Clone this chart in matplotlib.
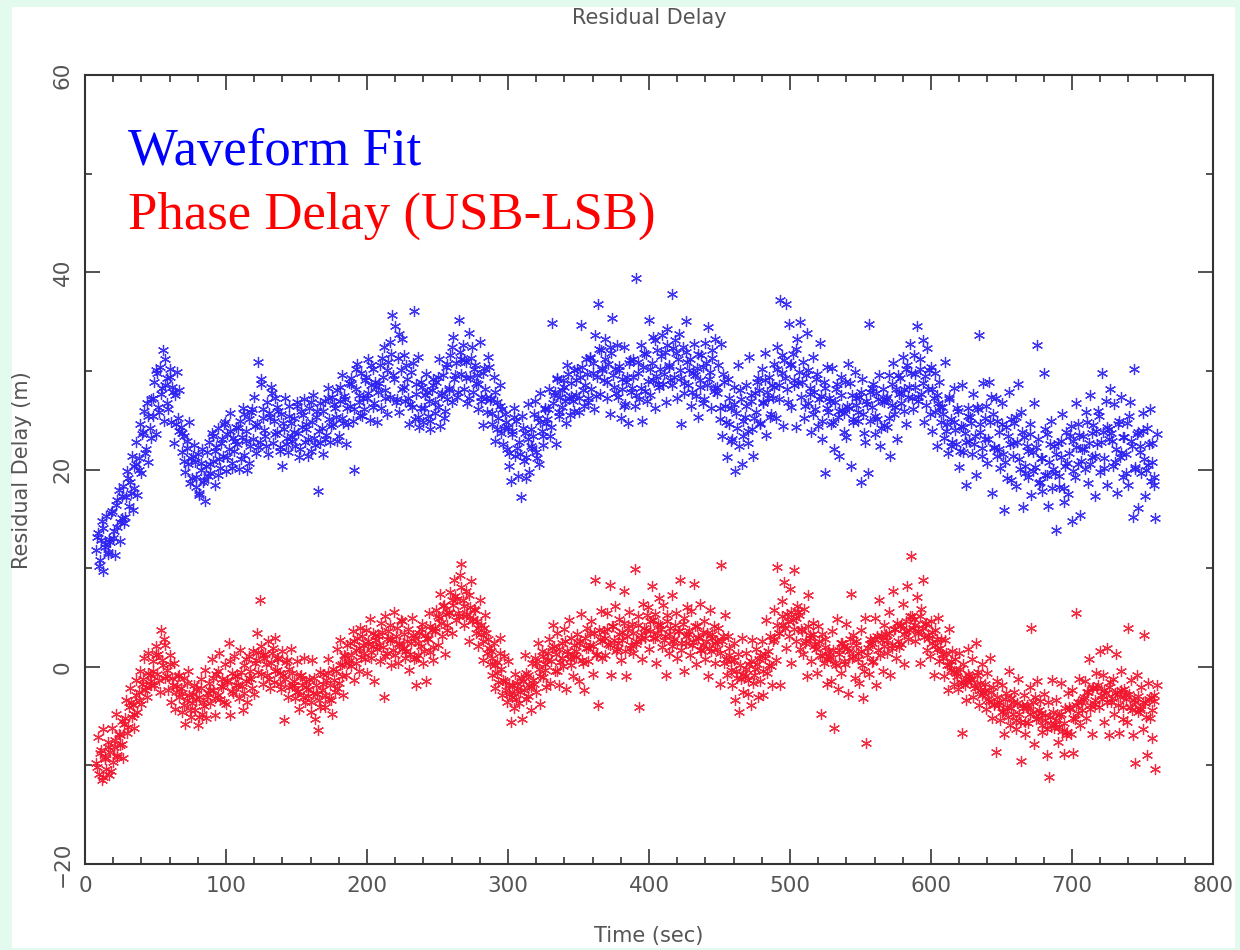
import matplotlib.pyplot as plt
import numpy as np
from matplotlib.patches import Rectangle
from matplotlib.ticker import MultipleLocator

# sample times: whole seconds 8..760 s, plus the half-second samples in between
time_sec = np.arange(8, 761)
time_sec_b = np.arange(8.5, 760, 2.0)

# Waveform Fit residual delay (m), 10 s per row
waveform_fit = [
    11.8, 13.6, 10.2, 12.9, 14.8, 9.7, 12.1, 15.3, 11.4, 13.0,
    12.6, 15.8, 13.1, 11.3, 16.4, 14.2, 17.9, 12.8, 15.1, 18.3,
    14.6, 17.2, 19.8, 16.3, 18.7, 21.4, 15.9, 18.1, 20.6, 17.4,
    21.2, 24.6, 19.6, 23.8, 25.9, 22.1, 26.7, 20.8, 24.2, 27.1,
    25.4, 28.9, 23.6, 29.8, 26.3, 30.4, 27.7, 32.1, 24.9, 28.6,
    29.3, 26.1, 30.2, 24.8, 28.4, 22.7, 27.6, 29.9, 25.2, 23.9,
    24.3, 21.8, 23.4, 19.7, 22.9, 20.6, 24.8, 21.2, 19.1, 22.5,
    20.8, 18.2, 21.6, 17.4, 19.9, 22.1, 18.7, 16.8, 20.4, 19.3,
    22.8, 19.6, 23.7, 20.9, 18.4, 22.3, 24.2, 21.1, 20.2, 23.1,
    21.4, 24.8, 19.8, 23.6, 22.1, 25.7, 20.7, 23.2, 21.9, 24.3,
    22.6, 20.1, 24.9, 23.3, 26.2, 21.5, 23.9, 19.9, 25.1, 22.4,
    25.8, 23.1, 27.4, 21.7, 24.6, 30.9, 22.8, 29.2, 26.1, 24.0,
    23.4, 26.8, 21.6, 25.3, 28.4, 22.7, 24.9, 27.2, 23.8, 25.9,
    22.3, 25.6, 20.4, 24.1, 27.3, 23.2, 21.8, 26.4, 24.7, 22.9,
    25.2, 22.4, 26.8, 23.7, 21.3, 25.9, 24.3, 27.1, 22.8, 24.6,
    23.1, 26.2, 21.9, 24.8, 27.6, 22.5, 25.3, 17.8, 23.9, 26.7,
    24.2, 21.6, 26.9, 23.5, 28.3, 25.1, 22.8, 27.4, 24.6, 26.2,
    25.3, 28.1, 23.4, 26.9, 29.6, 24.7, 27.5, 22.6, 26.2, 28.8,
    26.4, 29.3, 24.9, 19.9, 28.2, 30.7, 26.8, 25.5, 29.8, 27.3,
    26.1, 29.4, 27.3, 31.2, 25.0, 28.6, 30.2, 26.7, 28.9, 24.8,
    27.9, 30.6, 26.2, 29.4, 32.4, 28.1, 25.6, 30.9, 27.4, 31.7,
    35.7, 29.2, 34.6, 27.1, 31.3, 25.8, 30.1, 33.2, 28.4, 26.9,
    30.6, 27.2, 24.6, 29.9, 26.3, 36.1, 25.1, 28.7, 31.4, 24.3,
    26.2, 28.4, 24.8, 27.6, 29.7, 25.4, 26.9, 24.1, 28.1, 29.2,
    25.7, 28.9, 26.3, 31.2, 24.4, 27.8, 29.6, 25.9, 30.4, 27.1,
    28.3, 31.6, 26.8, 33.4, 29.2, 30.8, 27.4, 35.2, 31.9, 29.7,
    32.6, 28.2, 30.9, 26.7, 33.8, 29.4, 31.3, 27.9, 30.2, 28.8,
    29.6, 26.1, 32.9, 27.4, 24.5, 30.3, 28.2, 25.8, 31.4, 27.0,
    27.3, 24.6, 29.4, 22.9, 26.8, 25.2, 28.6, 23.7, 26.1, 24.2,
    25.6, 22.1, 24.3, 20.4, 18.8, 23.6, 26.2, 21.4, 24.9, 19.3,
    22.8, 17.2, 25.4, 20.9, 23.7, 21.3, 26.6, 19.7, 24.1, 22.2,
    23.4, 26.9, 21.8, 25.2, 20.6, 27.8, 23.9, 22.5, 26.1, 24.7,
    25.1, 28.2, 23.4, 34.9, 26.7, 27.9, 22.6, 29.3, 25.8, 27.4,
    26.3, 29.1, 28.4, 24.7, 30.6, 27.2, 25.5, 28.8, 26.9, 30.1,
    27.6, 30.2, 25.8, 29.4, 34.7, 28.1, 26.4, 31.2, 29.7, 27.3,
    31.4, 28.2, 30.8, 26.1, 33.6, 29.4, 36.8, 27.7, 32.1, 30.3,
    29.1, 33.2, 27.3, 30.7, 25.6, 31.8, 35.4, 28.4, 30.2, 32.6,
    27.4, 30.1, 25.2, 29.2, 32.4, 26.6, 28.9, 24.7, 30.8, 27.9,
    28.3, 31.2, 26.4, 39.4, 29.8, 27.1, 32.6, 24.9, 30.4, 28.0,
    31.7, 29.0, 35.2, 27.6, 30.8, 33.4, 26.2, 29.5, 32.1, 28.4,
    30.2, 33.6, 28.7, 31.9, 26.8, 34.2, 30.6, 29.1, 37.8, 32.3,
    29.4, 31.8, 27.2, 33.7, 30.1, 24.6, 32.4, 28.8, 35.1, 30.9,
    28.6, 31.2, 26.4, 29.8, 32.7, 27.5, 30.3, 25.3, 29.1, 31.6,
    30.4, 27.1, 32.8, 28.6, 34.4, 29.9, 26.2, 31.3, 28.0, 33.2,
    27.8, 30.6, 25.1, 32.7, 23.4, 28.9, 26.4, 21.3, 29.2, 24.6,
    26.2, 23.1, 28.4, 19.8, 25.7, 30.6, 22.4, 27.1, 20.6, 24.9,
    25.3, 28.6, 22.7, 31.4, 26.9, 24.1, 21.4, 27.8, 25.8, 29.3,
    28.1, 24.6, 30.2, 26.7, 31.8, 23.5, 27.9, 29.4, 25.3, 28.6,
    27.3, 30.7, 25.2, 32.4, 28.6, 37.2, 29.8, 24.4, 31.1, 36.8,
    28.2, 34.8, 30.6, 26.3, 31.7, 29.1, 24.3, 33.2, 28.8, 35.0,
    27.4, 30.9, 25.2, 29.6, 33.8, 26.7, 28.3, 23.8, 31.4, 27.9,
    26.1, 29.7, 24.4, 32.8, 27.5, 23.1, 28.9, 19.6, 30.4, 25.8,
    27.2, 24.6, 30.3, 22.1, 26.8, 28.7, 25.3, 21.4, 29.4, 26.0,
    25.7, 28.9, 23.3, 30.7, 26.2, 20.4, 27.6, 24.8, 29.9, 26.5,
    24.9, 27.4, 18.7, 29.2, 25.6, 22.8, 26.9, 19.6, 34.8, 27.9,
    26.3, 28.7, 23.6, 27.8, 25.1, 29.6, 22.4, 26.9, 28.2, 24.5,
    27.1, 24.3, 29.6, 21.4, 26.5, 30.8, 25.6, 28.2, 23.1, 27.7,
    29.3, 26.7, 31.4, 28.2, 24.6, 30.6, 27.4, 32.7, 29.8, 26.1,
    31.6, 28.4, 34.6, 26.9, 30.2, 27.7, 33.1, 24.8, 29.5, 32.3,
    28.2, 25.6, 30.4, 23.9, 27.3, 29.8, 22.4, 26.7, 28.9, 24.8,
    26.3, 23.2, 30.9, 24.6, 21.7, 27.4, 25.1, 22.8, 28.3, 24.0,
    22.6, 25.9, 20.3, 24.4, 28.6, 21.8, 23.7, 18.4, 26.2, 22.9,
    25.3, 21.6, 27.7, 23.4, 19.4, 26.1, 33.6, 24.6, 22.2, 28.8,
    23.1, 26.4, 20.7, 28.9, 24.8, 17.6, 25.6, 22.3, 27.2, 21.4,
    23.8, 20.2, 26.7, 21.6, 15.9, 24.3, 19.1, 27.9, 22.6, 25.1,
    21.4, 24.7, 18.3, 22.8, 28.7, 20.1, 25.8, 16.2, 23.3, 19.6,
    22.4, 19.2, 24.6, 17.4, 21.8, 26.7, 20.3, 32.6, 23.1, 18.7,
    21.2, 17.8, 29.8, 19.4, 23.6, 16.3, 20.8, 24.9, 18.1, 22.4,
    19.6, 13.9, 22.7, 18.2, 21.3, 25.6, 16.7, 20.4, 23.8, 17.5,
    21.7, 24.4, 14.8, 22.9, 19.2, 26.7, 20.6, 23.5, 15.4, 22.1,
    23.4, 20.1, 25.8, 18.6, 22.7, 27.6, 21.3, 24.5, 17.3, 23.9,
    22.6, 25.4, 19.7, 29.8, 23.8, 21.2, 26.9, 18.4, 24.1, 28.2,
    23.7, 20.4, 26.6, 22.1, 17.6, 24.9, 21.3, 27.4, 19.2, 23.3,
    21.6, 24.7, 18.4, 26.8, 22.9, 15.2, 30.2, 20.3, 23.6, 16.1,
    22.4, 19.6, 25.7, 21.1, 17.3, 24.2, 20.5, 26.1, 18.8, 22.7,
    19.2, 15.1, 23.6,
]

# Waveform Fit, half-second samples (every 2 s from 8.5 s), 20 s per row
waveform_fit_b = [
    13.2, 10.8, 14.1, 12.4, 11.6, 15.6, 13.8, 16.9, 14.7, 17.3,
    15.2, 19.1, 17.6, 20.4, 22.8, 19.9, 23.6, 21.7, 25.4, 23.2,
    27.2, 30.1, 25.8, 28.3, 31.2, 26.7, 29.4, 27.9, 24.6, 28.1,
    23.7, 20.9, 22.2, 18.6, 21.4, 19.2, 17.6, 20.7, 18.9, 21.8,
    20.6, 23.4, 21.9, 19.4, 22.7, 24.6, 21.3, 23.9, 20.2, 22.9,
    24.2, 21.1, 25.6, 22.9, 20.7, 26.1, 24.4, 22.3, 28.7, 25.2,
    22.4, 25.7, 27.8, 23.6, 26.3, 21.9, 24.7, 22.6, 25.4, 23.3,
    23.8, 26.4, 22.1, 25.5, 24.1, 21.4, 26.8, 23.2, 25.9, 22.7,
    25.9, 23.1, 27.3, 24.4, 26.6, 22.9, 28.4, 25.2, 27.1, 24.6,
    28.7, 26.1, 30.2, 27.6, 25.4, 29.1, 27.8, 30.6, 26.3, 28.4,
    28.8, 31.3, 27.2, 30.1, 32.9, 29.6, 26.8, 33.7, 28.2, 31.6,
    29.2, 26.6, 30.8, 27.7, 25.3, 28.9, 26.2, 27.9, 24.9, 28.6,
    26.8, 29.4, 27.6, 25.2, 30.7, 28.1, 32.4, 29.6, 27.9, 31.2,
    31.1, 29.3, 27.2, 32.4, 30.6, 28.7, 26.9, 29.8, 27.3, 30.4,
    25.7, 27.9, 24.1, 26.4, 22.6, 24.8, 21.7, 23.9, 25.3, 22.2,
    21.6, 24.2, 19.1, 23.1, 22.4, 25.6, 21.2, 24.8, 23.4, 26.2,
    26.1, 24.3, 27.6, 29.2, 25.4, 28.1, 26.9, 29.7, 27.5, 25.9,
    29.1, 27.2, 30.4, 28.6, 26.8, 31.3, 29.8, 27.5, 32.2, 30.1,
    31.2, 28.9, 32.4, 29.6, 27.8, 30.5, 28.2, 26.4, 29.4, 31.1,
    29.4, 27.6, 30.9, 28.3, 31.8, 26.9, 30.2, 29.1, 33.1, 28.7,
    31.5, 29.7, 32.6, 30.4, 28.6, 33.1, 31.2, 29.3, 27.8, 31.9,
    30.1, 27.9, 29.6, 31.7, 28.4, 26.7, 30.8, 29.2, 32.1, 28.3,
    28.4, 26.2, 29.7, 24.8, 27.3, 22.9, 26.6, 24.2, 28.1, 23.4,
    26.4, 23.9, 27.6, 25.2, 28.9, 24.7, 26.8, 29.1, 27.2, 25.6,
    28.4, 30.2, 27.1, 31.6, 29.3, 26.8, 30.7, 28.6, 32.2, 29.9,
    28.9, 26.4, 30.1, 27.7, 25.6, 29.2, 27.1, 24.9, 28.3, 26.2,
    26.9, 24.8, 28.2, 25.9, 27.6, 23.8, 26.4, 28.8, 25.1, 27.3,
    25.8, 27.9, 23.7, 26.6, 24.9, 28.3, 25.4, 27.1, 24.2, 26.8,
    27.4, 25.2, 28.7, 26.3, 29.6, 27.8, 25.9, 30.2, 28.4, 27.2,
    29.7, 27.4, 31.2, 28.8, 26.5, 30.1, 28.2, 25.8, 27.6, 26.3,
    25.6, 23.9, 27.1, 22.4, 24.8, 26.2, 21.9, 24.3, 22.8, 25.4,
    24.7, 22.6, 26.3, 23.8, 21.4, 25.2, 23.1, 27.4, 22.2, 24.9,
    22.1, 24.6, 20.8, 23.4, 18.9, 22.7, 25.3, 21.1, 23.8, 20.4,
    21.9, 23.6, 19.8, 22.3, 18.6, 21.2, 24.1, 19.4, 22.6, 20.1,
    21.6, 19.3, 22.9, 18.1, 20.7, 23.4, 19.8, 22.3, 24.6, 20.9,
    22.1, 24.8, 20.6, 23.7, 21.4, 25.9, 22.8, 20.2, 24.3, 23.1,
    22.9, 20.8, 24.6, 21.7, 23.3, 19.6, 25.4, 22.4, 20.1, 23.8,
    21.8, 23.9, 19.9, 22.6, 20.8, 18.4,
]

# Phase Delay (USB-LSB) residual delay (m), 10 s per row
phase_delay = [
    -9.8, -7.1, -10.9, -8.4, -11.5, -6.3, -9.2, -10.4, -8.1, -11.0,
    -8.6, -6.2, -9.7, -7.4, -4.8, -8.9, -6.8, -7.9, -5.5, -9.3,
    -5.8, -3.4, -6.7, -4.1, -2.2, -5.1, -3.9, -6.2, -1.3, -4.6,
    -2.6, -0.4, -3.8, -1.2, 0.9, -2.1, -3.1, 1.4, -0.8, -1.9,
    0.6, -1.8, 2.1, -0.7, 1.3, -2.6, 3.7, 0.2, 2.8, -1.1,
    -0.3, -2.4, 1.2, -3.6, -1.1, 0.4, -4.3, -2.0, -0.9, -3.1,
    -2.2, -4.6, -1.1, -5.8, -3.4, -0.4, -2.9, -5.1, -3.7, -1.8,
    -4.4, -2.3, -5.9, -3.1, -1.2, -4.8, -3.6, -0.3, -5.2, -2.7,
    -1.6, -3.7, 0.8, -2.4, -4.9, -0.7, -2.9, 1.4, -3.3, -1.2,
    -2.1, 0.3, -3.8, -1.3, 2.4, -4.9, -0.6, -2.7, 1.1, -1.8,
    -0.9, -3.2, 1.7, -2.0, -4.4, 0.2, -1.4, -3.6, 1.1, -0.4,
    -1.2, 1.6, -2.8, 0.7, 3.4, -0.5, 6.8, 2.1, -1.7, 0.9,
    1.3, -0.8, 2.6, -2.2, 0.4, 1.9, -1.5, 2.9, -0.3, 0.8,
    -0.6, -2.3, 1.6, -5.4, -1.2, 0.7, -3.1, -0.2, 1.8, -2.0,
    -1.4, -3.2, 0.6, -2.5, -4.3, -0.8, -1.9, 0.9, -3.6, -2.1,
    -3.0, -1.2, -4.6, 0.7, -2.7, -5.3, -1.8, -6.4, -3.4, -0.5,
    -2.4, -0.7, -4.1, -1.3, 0.8, -3.3, -1.9, -4.8, -0.2, -2.6,
    -0.4, 1.8, -1.6, 2.7, 0.3, -2.9, 1.2, -0.8, 2.2, 0.6,
    2.4, 0.1, 3.6, -1.3, 1.7, 2.9, -0.4, 3.9, 1.0, 2.2,
    1.4, 3.7, -0.6, 2.6, 4.8, 0.9, 2.1, -1.4, 3.2, 1.8,
    3.1, 0.6, 4.4, 2.0, -3.1, 5.1, 1.4, 3.6, 2.7, 0.2,
    2.8, 5.6, 1.2, 3.9, 0.4, 2.3, 4.7, 1.8, 3.3, 0.9,
    1.6, 3.8, -0.3, 2.4, 4.9, 0.8, 2.9, -1.8, 1.2, 3.4,
    2.1, 4.3, 0.4, 3.2, -1.4, 2.8, 5.4, 1.5, 3.7, 0.7,
    3.6, 5.8, 2.2, 4.9, 7.4, 3.1, 6.2, 1.3, 5.3, 4.2,
    5.4, 7.6, 3.4, 6.3, 8.8, 4.7, 6.9, 5.1, 9.3, 10.4,
    6.8, 4.2, 7.7, 5.3, 2.6, 6.1, 8.7, 4.8, 5.9, 3.4,
    4.6, 2.1, 6.8, 3.3, 0.7, 3.9, 5.2, 1.4, 2.8, 0.3,
    1.6, -0.8, 2.4, -2.2, 0.5, -1.5, 2.9, -0.2, -2.9, 1.1,
    -1.4, -3.6, 0.6, -2.8, -5.6, -1.9, -4.2, -0.7, -3.3, -2.2,
    -3.7, -1.1, -5.3, -2.4, 1.2, -0.6, -3.0, -1.8, -4.4, 0.4,
    -1.3, 0.9, -2.6, 2.4, -0.2, -3.8, 1.6, -1.0, 0.3, -2.1,
    0.7, 2.8, -1.6, 1.9, 4.2, -0.4, 1.3, 3.4, -1.9, 0.5,
    2.4, 0.1, 3.8, -2.3, 1.6, 4.7, 0.8, 2.9, -0.9, 1.2,
    1.0, 3.3, -1.4, 2.6, 5.3, 0.4, -2.4, 1.9, 3.9, 0.6,
    2.2, 4.6, -0.7, 3.4, 8.8, 1.3, -3.9, 2.8, 5.7, 0.9,
    3.6, 1.2, 5.4, 2.3, 8.3, -0.8, 4.1, 2.7, 6.2, 1.8,
    2.4, 4.8, 0.7, 3.5, 7.7, 1.6, -0.9, 3.9, 5.6, 2.2,
    4.3, 1.4, 9.9, 2.6, 5.1, -4.1, 3.2, 0.8, 6.4, 2.9,
    3.7, 6.1, 1.8, 4.6, 8.2, 2.9, 5.3, 0.4, 3.4, 7.0,
    4.2, 2.0, 6.3, 3.1, -0.8, 5.2, 1.4, 3.9, 7.3, 2.6,
    2.8, 5.4, 0.9, 3.6, 8.8, 1.7, 4.3, -0.4, 2.4, 6.1,
    3.3, 1.2, 5.7, 2.5, 8.4, 0.3, 4.1, 2.9, 6.4, 1.7,
    2.2, 4.6, 0.8, 3.4, -0.9, 5.8, 1.6, 2.9, 4.1, 0.4,
    1.8, 3.9, -1.7, 10.3, 2.6, 0.4, 5.2, -0.8, 3.1, 1.2,
    0.6, -1.9, 2.4, -3.4, -0.4, 1.3, -4.6, -1.2, 2.9, -2.6,
    -0.9, 1.4, -2.8, 0.3, -3.9, 2.7, -1.6, -0.2, 1.8, -3.1,
    0.8, -1.4, 2.6, -2.9, 1.3, 4.7, -0.6, 0.2, 3.1, -1.8,
    2.6, 5.8, 0.7, 10.1, 3.4, -1.9, 6.7, 4.2, 8.6, 1.9,
    5.3, 3.1, 7.9, 0.4, 4.7, 9.8, 2.6, 6.2, 5.6, 1.8,
    3.8, 1.3, 5.9, 2.6, -0.9, 7.3, 3.2, 0.6, 4.4, 2.1,
    2.3, -0.6, 4.1, 1.2, -4.8, 3.3, 0.4, 2.8, -1.7, 1.6,
    1.1, -1.4, 3.6, -6.2, 0.4, 4.8, -2.3, 1.7, -0.6, 2.4,
    2.1, 0.3, 4.3, -2.8, 1.6, 7.4, 0.9, 3.2, -1.1, 2.6,
    1.4, -1.6, 3.7, 0.2, -3.2, 4.9, -7.7, 1.9, -0.7, 2.8,
    2.4, 0.6, 4.9, -1.8, 3.1, 6.8, 1.2, 2.7, -0.4, 4.2,
    3.3, 1.4, 5.6, -0.8, 2.2, 7.7, 3.8, 0.9, 4.4, 2.0,
    4.1, 2.3, 6.4, 0.3, 3.6, 8.2, 2.8, 5.1, 11.2, 3.9,
    4.8, 2.6, 7.1, 3.4, 0.4, 5.9, 8.8, 3.0, 4.3, 1.7,
    3.2, 1.1, 4.6, 2.4, -0.8, 3.7, 1.8, 4.9, 0.6, 2.8,
    1.3, -0.9, 2.7, 0.2, -2.4, 3.8, -0.3, 1.6, -1.7, 0.8,
    -0.6, -2.3, 1.4, -1.5, -6.7, 0.3, -1.9, -3.4, 1.8, -0.9,
    -1.2, 0.8, -3.1, -2.2, 2.4, -0.5, -3.9, -1.6, 0.3, -2.7,
    -2.4, -4.3, -0.6, -3.5, 0.9, -5.2, -2.1, -3.9, -8.6, -1.4,
    -3.6, -5.4, -1.8, -4.5, -6.8, -2.7, -4.1, -0.4, -5.9, -3.2,
    -4.8, -2.6, -6.3, -3.7, -1.2, -5.6, -9.6, -4.2, -2.9, -6.8,
    -3.9, -5.7, -2.1, 3.9, -4.6, -7.8, -3.1, -1.4, -5.2, -3.5,
    -4.7, -6.6, -2.8, -5.4, -8.9, -3.6, -11.2, -5.9, -1.3, -6.2,
    -5.8, -3.4, -7.6, -4.9, -1.6, -6.5, -8.8, -4.2, -6.9, -2.7,
    -4.1, -6.8, -2.4, -8.7, -5.3, 5.4, -3.6, -1.2, -5.9, -4.4,
    -3.3, -1.4, -5.2, -2.6, 0.8, -4.3, -6.8, -2.1, -3.8, -0.6,
    -2.2, -4.1, 1.6, -3.3, -0.8, -5.6, -2.7, 1.9, -6.9, -1.5,
    -3.6, -1.2, -4.8, 1.3, -2.6, -6.7, -3.1, -0.4, -5.3, -2.3,
    -2.9, -5.6, 3.9, -4.1, -1.3, -6.9, -3.4, -9.8, -0.8, -4.6,
    -4.4, -2.1, -6.3, 3.2, -3.7, -8.9, -1.6, -5.2, -3.1, -7.2,
    -3.5, -10.4, -1.8,
]

# Phase Delay, half-second samples (every 2 s from 8.5 s), 20 s per row
phase_delay_b = [
    -10.2, -8.7, -11.2, -9.4, -7.6, -10.6, -8.1, -9.2, -6.9, -7.8,
    -5.2, -6.1, -3.6, -4.8, -2.9, -3.4, -1.7, -2.4, -0.6, -1.4,
    -0.4, 1.2, -1.3, 0.7, 2.2, -0.9, 0.3, -1.8, -2.6, -0.8,
    -2.7, -3.9, -1.6, -4.4, -2.8, -3.3, -5.1, -2.2, -4.0, -3.1,
    -2.4, -1.1, -3.2, -0.4, -2.0, -3.6, -1.5, 0.6, -2.5, -0.9,
    -1.8, -0.5, -2.7, 0.8, -1.1, -2.2, 0.4, 1.5, -0.7, 1.2,
    0.3, -1.2, 1.4, -0.4, 0.9, -1.7, -0.8, 0.5, -2.1, -0.6,
    -1.8, -2.6, -0.9, -3.1, -1.4, -2.3, -3.6, -1.1, -2.8, -4.1,
    -1.7, -2.9, -0.6, -3.4, -1.3, -2.2, 0.2, -0.9, 1.1, 0.4,
    1.2, 2.6, 0.4, 1.9, 3.1, 0.8, 2.3, 1.5, 3.4, 2.7,
    2.2, 3.5, 1.1, 2.8, 4.2, 1.7, 3.1, 2.4, 4.6, 1.9,
    2.6, 1.3, 3.2, 0.9, 2.4, 3.8, 1.6, 2.9, 4.1, 2.0,
    3.9, 5.1, 4.4, 6.3, 3.7, 5.6, 6.8, 7.2, 5.4, 8.1,
    6.2, 5.1, 7.3, 4.6, 5.8, 3.9, 4.2, 2.6, 3.4, 1.9,
    0.9, 0.2, -0.6, 1.4, -1.3, -2.4, -1.9, -3.1, -2.7, -1.6,
    -2.6, -1.4, -3.3, -0.8, -2.1, -1.7, 0.4, -0.9, 1.1, -0.3,
    1.4, 0.6, 2.1, -0.4, 1.8, 0.9, 2.6, 1.3, 0.2, 2.2,
    1.6, 2.4, 0.7, 2.9, 1.9, 3.4, 2.1, 1.2, 3.7, 2.6,
    2.9, 3.8, 2.2, 4.1, 1.6, 3.3, 2.7, 4.4, 3.1, 1.9,
    3.4, 2.3, 4.2, 2.8, 3.9, 5.2, 3.6, 4.7, 2.9, 4.3,
    3.8, 2.7, 4.6, 3.3, 2.1, 4.2, 3.6, 2.4, 4.9, 3.1,
    3.6, 2.2, 4.1, 3.0, 1.7, 3.5, 2.6, 1.9, 3.3, 2.4,
    2.6, 1.4, 3.1, 0.8, 1.9, -0.3, 0.7, -1.1, 0.2, -0.7,
    -0.2, -1.3, 0.6, -0.8, 0.3, 1.2, -0.4, 0.9, 1.6, 0.1,
    2.8, 4.2, 3.4, 5.1, 3.9, 4.6, 5.6, 3.8, 4.9, 5.2,
    3.6, 2.4, 4.1, 2.9, 3.3, 1.8, 2.6, 1.1, 2.0, 0.8,
    0.9, 1.7, 0.2, 1.3, 2.4, 0.6, 1.9, 2.8, 1.1, 2.2,
    0.8, 1.6, -0.4, 1.2, 2.3, 0.5, 2.8, 1.7, 3.2, 2.1,
    2.7, 3.4, 1.9, 3.8, 2.6, 4.2, 3.3, 4.6, 3.7, 5.1,
    4.2, 3.6, 5.1, 3.9, 4.4, 2.9, 3.5, 2.2, 2.8, 1.9,
    0.9, 1.4, 0.2, 0.6, -0.4, -0.9, -0.2, -1.6, -1.1, -0.7,
    -1.3, -1.9, -0.8, -2.4, -2.9, -1.7, -3.3, -2.6, -3.8, -3.1,
    -3.9, -4.6, -3.3, -5.1, -4.2, -3.6, -5.4, -4.8, -3.9, -5.6,
    -4.1, -4.8, -3.6, -5.3, -4.4, -5.9, -4.9, -6.3, -5.1, -4.6,
    -5.4, -6.1, -4.8, -5.7, -6.6, -4.3, -5.2, -3.9, -4.7, -3.6,
    -3.1, -2.6, -3.9, -2.2, -3.4, -1.8, -2.9, -2.4, -3.6, -2.1,
    -3.2, -2.7, -3.9, -2.4, -4.1, -3.3, -2.8, -4.4, -3.6, -3.0,
    -4.2, -3.6, -5.1, -3.3, -4.4, -2.9,
]

series_labels = ["Waveform Fit", "Phase Delay (USB-LSB)"]
marker_colors = ["#2a1ff0", "#f0142c"]
text_colors = ["#0000ff", "#ff0000"]

assert len(waveform_fit) == len(time_sec), len(waveform_fit)
assert len(phase_delay) == len(time_sec), len(phase_delay)
assert len(waveform_fit_b) == len(time_sec_b), len(waveform_fit_b)
assert len(phase_delay_b) == len(time_sec_b), len(phase_delay_b)

fig = plt.figure(figsize=(12.4, 9.5), dpi=100)
fig.patch.set_facecolor("#e2fbee")
# white slide area inside the light green frame
fig.patches.append(Rectangle((12 / 1240, 2 / 950), 1223 / 1240, 941 / 950,
                             transform=fig.transFigure, facecolor="white",
                             edgecolor="none", zorder=-10))

ax = fig.add_axes([85 / 1240, 86 / 950, 1128 / 1240, 789 / 950])
ax.set_facecolor("white")
ax.set_zorder(2)

series = [(waveform_fit, waveform_fit_b), (phase_delay, phase_delay_b)]
for (vals, vals_b), col in zip(series, marker_colors):
    t_all = np.concatenate([time_sec, time_sec_b])
    y_all = np.concatenate([vals, vals_b])
    ax.plot(t_all, y_all, linestyle="none", marker=(6, 2, 0),
            markersize=8, markeredgewidth=0.9, color=col, alpha=0.9)

ax.set_xlim(0, 800)
ax.set_ylim(-20, 60)

grey = "#555555"
ax.xaxis.set_major_locator(MultipleLocator(100))
ax.xaxis.set_minor_locator(MultipleLocator(20))
ax.yaxis.set_major_locator(MultipleLocator(20))
ax.yaxis.set_minor_locator(MultipleLocator(10))
ax.tick_params(which="both", direction="in", top=True, right=True,
               color="#333333", width=1.2)
ax.tick_params(which="major", length=11, labelsize=15.5, labelcolor=grey, pad=9)
ax.tick_params(which="minor", length=5)
for lab in ax.get_yticklabels():
    lab.set_rotation(90)
    lab.set_va("center")
for sp in ax.spines.values():
    sp.set_color("#333333")
    sp.set_linewidth(1.5)

fig.text(649 / 1240, 1 - 18 / 950, "Residual Delay", ha="center", va="center",
         fontsize=15, color=grey)
fig.text(649 / 1240, 1 - 936 / 950, "Time (sec)", ha="center", va="center",
         fontsize=15, color=grey)
fig.text(22 / 1240, 1 - 470 / 950, "Residual Delay (m)", ha="center",
         va="center", rotation=90, fontsize=15, color=grey)

# in-plot legend text
for lbl, col, yb in zip(series_labels, text_colors, [165, 229]):
    fig.text(128 / 1240, 1 - yb / 950, lbl, ha="left", va="baseline",
             fontsize=38, color=col, family="Liberation Serif", zorder=5)

fig.savefig("out.png", dpi=100, facecolor=fig.get_facecolor())
